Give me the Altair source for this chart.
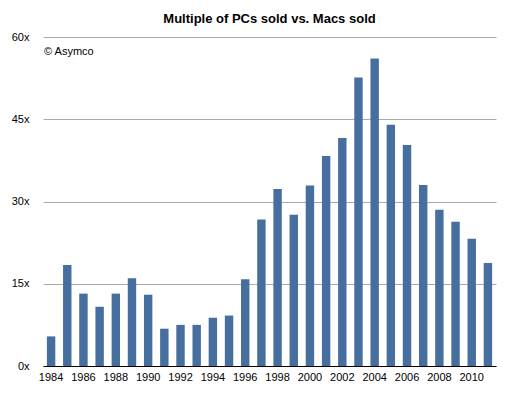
import altair as alt
import pandas as pd

years = list(range(1984, 2012))
multiples = [5.4, 18.4, 13.2, 10.8, 13.2, 16.0, 13.0, 6.8, 7.5, 7.5, 8.8, 9.2, 15.8, 26.7,
             32.3, 27.6, 32.9, 38.3, 41.6, 52.6, 56.1, 44.0, 40.3, 33.0, 28.5, 26.3, 23.2, 18.8]
tick_years = list(range(1984, 2011, 2))
y_ticks = [0, 15, 30, 45, 60]

df = pd.DataFrame({"year": years, "multiple": multiples})

FONT = "Liberation Sans"

bars = alt.Chart(df).mark_bar(color="#466e9e").encode(
    x=alt.X("year:O", title=None,
            scale=alt.Scale(paddingInner=0.48, paddingOuter=0.24),
            axis=alt.Axis(values=tick_years, labelAngle=0, ticks=False, grid=False,
                          domainColor="#000000", domainWidth=1.2, labelPadding=5,
                          labelFont=FONT, labelFontSize=11, labelColor="#000000")),
    y=alt.Y("multiple:Q", title=None,
            scale=alt.Scale(domain=[0, 60], nice=False),
            axis=alt.Axis(values=y_ticks, labelExpr="datum.value + 'x'", ticks=False,
                          domain=False, grid=True, gridColor="#aaaaaa", gridWidth=1,
                          labelPadding=14, labelFont=FONT, labelFontSize=11,
                          labelColor="#000000")),
)

note = alt.Chart(pd.DataFrame({"t": ["© Asymco"]})).mark_text(
    align="left", baseline="middle", font=FONT, fontSize=11, color="#000000"
).encode(x=alt.value(1), y=alt.value(15), text="t:N")

chart = alt.layer(bars, note).properties(
    width=453, height=329,
    autosize=alt.AutoSizeParams(type="none"),
    padding={"left": 35, "top": 29, "right": 9, "bottom": 22},
    title=alt.TitleParams("Multiple of PCs sold vs. Macs sold", font=FONT, fontSize=13,
                          fontWeight="bold", anchor="middle", offset=5, color="#000000"),
).configure_view(stroke=None)

chart.save("out.html", embed_options={"renderer": "svg", "actions": False})
